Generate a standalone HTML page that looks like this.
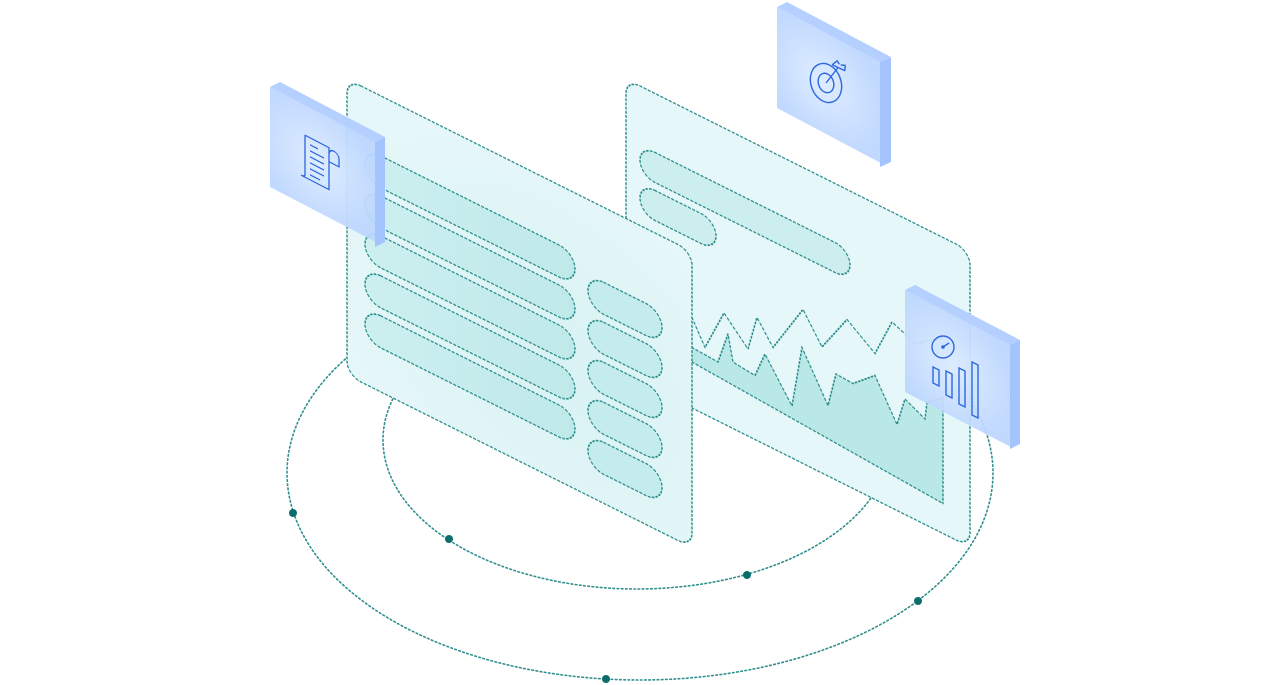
<!DOCTYPE html>
<html><head><meta charset="utf-8"><style>
html,body{margin:0;padding:0;background:#fff;width:1280px;height:685px;overflow:hidden}
svg{display:block}
</style></head><body>
<svg width="1280" height="685" viewBox="0 0 1280 685" xmlns="http://www.w3.org/2000/svg">
<defs>
<radialGradient id="pf" cx="0.6" cy="0.6" r="0.7">
<stop offset="0" stop-color="#d8f2f3"/><stop offset="1" stop-color="#e6f7f9"/>
</radialGradient>
<linearGradient id="bar" x1="0" y1="0" x2="1" y2="0">
<stop offset="0" stop-color="#cdeff0"/><stop offset="1" stop-color="#bfe9e9"/>
</linearGradient>
<radialGradient id="card" cx="0.45" cy="0.5" r="0.6">
<stop offset="0" stop-color="#dcebff"/><stop offset="1" stop-color="#bcd6ff"/>
</radialGradient>
</defs>
<g fill="none" stroke="#2f8f8d" stroke-width="1.6" stroke-dasharray="1.6 2.6" stroke-linecap="round">
<ellipse cx="640" cy="473" rx="353" ry="207"/>
<ellipse cx="637" cy="440" rx="254" ry="149"/>
</g>
<g fill="#0b6e6c">
<circle cx="293" cy="513" r="4"/><circle cx="449" cy="539" r="4"/><circle cx="747" cy="575" r="4"/><circle cx="918" cy="601" r="4"/><circle cx="606" cy="679" r="4"/>
</g>

<!-- Panel 2 (right) -->
<g transform="matrix(1,0.5,0,1,626,79)" stroke="#2f8f8d" stroke-width="1.5" stroke-dasharray="1.6 2.6" stroke-linecap="round">
<rect x="0" y="0" width="344" height="296" rx="14" fill="#e5f7f9"/>
<rect x="14" y="59" width="210" height="30" rx="15" fill="#cdeeee"/>
<rect x="14" y="97" width="76" height="30" rx="15" fill="#cdeeee"/>
<polygon points="66,235.5 92,237 102,204 107,229.6 129,232 139,205.5 166,244 176,180.5 202,225.5 210,190 227,191 249,172 271,210 279,180.5 299,190.5 301,173 317,160 317,266 66,250" fill="#b9e8e6" stroke="none"/>
<polyline points="66,235.5 92,237 102,204 107,229.6 129,232 139,205.5 166,244 176,180.5 202,225.5 210,190 227,191 249,172 271,210 279,180.5 299,190.5 301,173 317,160" fill="none"/>
<polyline points="66,205.5 79,229 98,185 122,209 131,173 147,195 177,142 196,170 221,130 249,150 266,110 290,120 317,100" fill="none"/>
<line x1="317" y1="160" x2="317" y2="266"/>
<line x1="66" y1="250" x2="317" y2="266"/>
</g>

<!-- Panel 1 (left) -->
<g transform="matrix(1,0.5,0,1,347,79)" stroke="#2f8f8d" stroke-width="1.5" stroke-dasharray="1.6 2.6" stroke-linecap="round">
<rect x="0" y="0" width="345" height="296" rx="14" fill="url(#pf)"/>
<rect x="18" y="60" width="210" height="32" rx="16" fill="url(#bar)"/>
<rect x="18" y="100" width="210" height="32" rx="16" fill="url(#bar)"/>
<rect x="18" y="140" width="210" height="32" rx="16" fill="url(#bar)"/>
<rect x="18" y="180" width="210" height="32" rx="16" fill="url(#bar)"/>
<rect x="18" y="220" width="210" height="32" rx="16" fill="url(#bar)"/>
<rect x="241" y="75" width="74" height="32" rx="16" fill="#c4ecec"/>
<rect x="241" y="115" width="74" height="32" rx="16" fill="#c4ecec"/>
<rect x="241" y="155" width="74" height="32" rx="16" fill="#c4ecec"/>
<rect x="241" y="195" width="74" height="32" rx="16" fill="#c4ecec"/>
<rect x="241" y="235" width="74" height="32" rx="16" fill="#c4ecec"/>
</g>

<!-- Card 1 doc -->
<polygon points="270,87 280,82 385,137 375,142" fill="#b5d0ff"/>
<polygon points="375,142 385,137 385,242 375,247" fill="#a3c4ff"/>
<g transform="matrix(1,0.52,0,1,270,87)">
<rect x="0" y="0" width="105" height="100" fill="url(#card)" fill-opacity="0.93"/>
<g fill="none" stroke="#2c68dc" stroke-width="1.3">
<path d="M35,30 h24 v42 h-28 M35,30 v40 M31,72 a4,4 0 0 0 4,-2"/>
<path d="M59,36 a5,5 0 0 1 10,0 v8 h-10"/>
<path d="M40,37 h8 M40,43 h14 M40,49 h14 M40,55 h14 M40,61 h14 M40,67 h10"/>
</g>
</g>

<!-- Card 2 target -->
<polygon points="777,7 787,2 891,57 880,62" fill="#b5d0ff"/>
<polygon points="880,62 891,57 891,162 880,167" fill="#a3c4ff"/>
<g transform="matrix(1,0.53,0,1,777,7)">
<rect x="0" y="0" width="103" height="101" fill="url(#card)" fill-opacity="0.93"/>
</g>
<g fill="none" stroke="#2c68dc" stroke-width="1.4" transform="translate(826,83) rotate(-20)">
<ellipse cx="0" cy="0" rx="15" ry="20"/>
<ellipse cx="0" cy="0" rx="7.5" ry="10"/>
<path d="M0,0 L16,-10 M12,-15 L17,-10 L22,-5 M12,-15 l6,-2 l1,4 M22,-5 l2,-5 l-4,-2"/>
</g>

<!-- Card 3 chart -->
<polygon points="905,290 915,285 1020,340 1010,345" fill="#b5d0ff"/>
<polygon points="1010,345 1020,340 1020,444 1010,449" fill="#a3c4ff"/>
<g transform="matrix(1,0.52,0,1,905,290)">
<rect x="0" y="0" width="105" height="102" fill="url(#card)" fill-opacity="0.93"/>
</g>
<g fill="none" stroke="#2c68dc" stroke-width="1.4">
<circle cx="943" cy="347" r="11"/>
<path d="M943,347 L949,343"/>
<polygon points="933,367 939,370 939,386 933,383"/>
<polygon points="946,371 952,374 952,398 946,395"/>
<polygon points="959,368 965,371 965,407 959,404"/>
<polygon points="972,362 978,365 978,418 972,415"/>
</g>
<circle cx="943" cy="347" r="1.8" fill="#2c68dc"/>
</svg>
</body></html>
